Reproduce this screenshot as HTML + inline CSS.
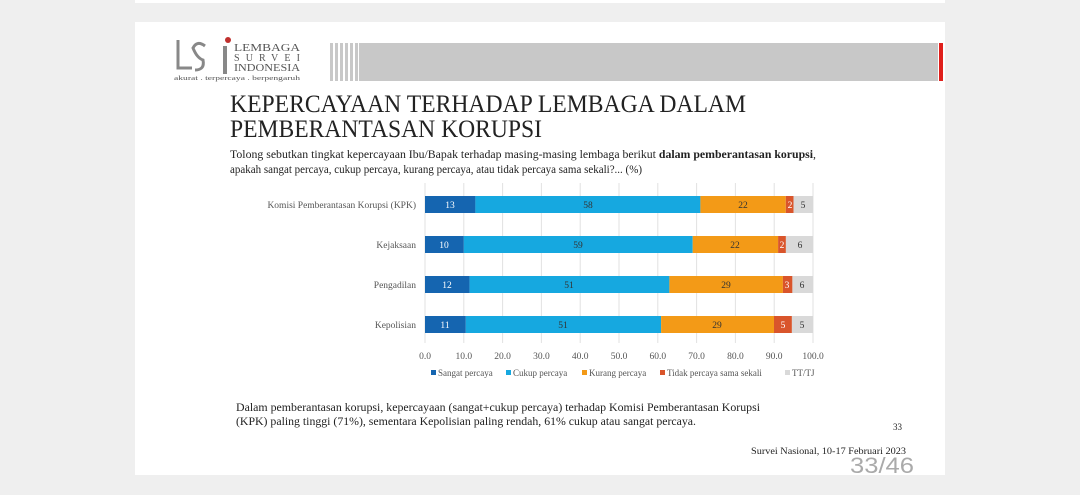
<!DOCTYPE html>
<html><head><meta charset="utf-8"><style>
html,body{margin:0;padding:0;background:#f0f0f0;}
svg{display:block;}
text{font-family:"Liberation Serif",serif;}
</style></head><body>
<svg width="1080" height="495" viewBox="0 0 1080 495" xmlns="http://www.w3.org/2000/svg">
<rect x="0" y="0" width="1080" height="495" fill="#efefef"/>
<rect x="135" y="0" width="810" height="3" fill="#fff"/>
<rect x="135" y="22" width="810" height="453" fill="#fff"/>
<!-- logo -->
<path d="M178 40 v28 h14" stroke="#888" stroke-width="3" fill="none"/>
<path d="M205 46 q-8 -6 -12 2 q4 10 10 12 q2 10 -8 10" stroke="#888" stroke-width="3" fill="none"/>
<rect x="223" y="46" width="4" height="28" fill="#888"/>
<circle cx="228" cy="40" r="3" fill="#c0302e"/>
<text x="234" y="51" font-size="10" fill="#555" textLength="66" lengthAdjust="spacingAndGlyphs">LEMBAGA</text>
<text x="234" y="61" font-size="10" fill="#555" textLength="66" lengthAdjust="spacing">SURVEI</text>
<text x="234" y="71" font-size="10" fill="#555" textLength="66" lengthAdjust="spacingAndGlyphs">INDONESIA</text>
<text x="174" y="80" font-size="6" fill="#555" textLength="126" lengthAdjust="spacingAndGlyphs">akurat . terpercaya . berpengaruh</text>
<!-- header bar -->
<g fill="#c8c8c8">
<rect x="330" y="43" width="3" height="38"/><rect x="335" y="43" width="3" height="38"/><rect x="340" y="43" width="3" height="38"/><rect x="345" y="43" width="3" height="38"/><rect x="350" y="43" width="3" height="38"/><rect x="355" y="43" width="3" height="38"/>
</g>
<rect x="359" y="43" width="579" height="38" fill="#c8c8c8"/>
<rect x="939" y="43" width="4" height="38" fill="#e0201c"/>
<!-- title -->
<text x="230" y="112" font-size="25" fill="#222" textLength="516" lengthAdjust="spacingAndGlyphs">KEPERCAYAAN TERHADAP LEMBAGA DALAM</text>
<text x="230" y="137" font-size="25" fill="#222" textLength="312" lengthAdjust="spacingAndGlyphs">PEMBERANTASAN KORUPSI</text>
<text x="230" y="158" font-size="11.5" fill="#222" textLength="586" lengthAdjust="spacingAndGlyphs">Tolong sebutkan tingkat kepercayaan Ibu/Bapak terhadap masing-masing lembaga berikut <tspan font-weight="bold">dalam pemberantasan korupsi</tspan>,</text>
<text x="230" y="173" font-size="11.5" fill="#222" textLength="412" lengthAdjust="spacingAndGlyphs">apakah sangat percaya, cukup percaya, kurang percaya, atau tidak percaya sama sekali?... (%)</text>
<!-- grid -->
<g stroke="#e2e2e2" stroke-width="1">
<line x1="425" y1="183" x2="425" y2="343"/><line x1="463.8" y1="183" x2="463.8" y2="343"/><line x1="502.6" y1="183" x2="502.6" y2="343"/><line x1="541.4" y1="183" x2="541.4" y2="343"/><line x1="580.2" y1="183" x2="580.2" y2="343"/><line x1="619" y1="183" x2="619" y2="343"/><line x1="657.8" y1="183" x2="657.8" y2="343"/><line x1="696.6" y1="183" x2="696.6" y2="343"/><line x1="735.4" y1="183" x2="735.4" y2="343"/><line x1="774.2" y1="183" x2="774.2" y2="343"/><line x1="813" y1="183" x2="813" y2="343"/>
</g>
<!-- bars: scale 3.88 -->
<g font-size="9.5" text-anchor="middle">
<!-- KPK 13 58 22 2 5 -->
<rect x="425" y="196" width="50.4" height="17" fill="#1565b0"/>
<rect x="475.4" y="196" width="225" height="17" fill="#16a8e0"/>
<rect x="700.4" y="196" width="85.4" height="17" fill="#f39a17"/>
<rect x="785.8" y="196" width="7.8" height="17" fill="#d9552b"/>
<rect x="793.6" y="196" width="19.4" height="17" fill="#d9d9d9"/>
<text x="450" y="208" fill="#fff">13</text><text x="588" y="208" fill="#333">58</text><text x="743" y="208" fill="#333">22</text><text x="790" y="208" fill="#fff">2</text><text x="803" y="208" fill="#333">5</text>
<!-- Kejaksaan 10 59 22 2 6 -->
<rect x="425" y="236" width="38.8" height="17" fill="#1565b0"/>
<rect x="463.8" y="236" width="228.9" height="17" fill="#16a8e0"/>
<rect x="692.7" y="236" width="85.4" height="17" fill="#f39a17"/>
<rect x="778.1" y="236" width="7.8" height="17" fill="#d9552b"/>
<rect x="785.9" y="236" width="27.1" height="17" fill="#d9d9d9"/>
<text x="444" y="248" fill="#fff">10</text><text x="578" y="248" fill="#333">59</text><text x="735" y="248" fill="#333">22</text><text x="782" y="248" fill="#fff">2</text><text x="800" y="248" fill="#333">6</text>
<!-- Pengadilan 12 51 29 3 6 -->
<rect x="425" y="276" width="44.6" height="17" fill="#1565b0"/>
<rect x="469.6" y="276" width="199.8" height="17" fill="#16a8e0"/>
<rect x="669.4" y="276" width="113.5" height="17" fill="#f39a17"/>
<rect x="782.9" y="276" width="9.5" height="17" fill="#d9552b"/>
<rect x="792.4" y="276" width="20.6" height="17" fill="#d9d9d9"/>
<text x="447" y="288" fill="#fff">12</text><text x="569" y="288" fill="#333">51</text><text x="726" y="288" fill="#333">29</text><text x="787" y="288" fill="#fff">3</text><text x="802" y="288" fill="#333">6</text>
<!-- Kepolisian 11 51 29 5 5 -->
<rect x="425" y="316" width="40.8" height="17" fill="#1565b0"/>
<rect x="465.8" y="316" width="195.3" height="17" fill="#16a8e0"/>
<rect x="661.1" y="316" width="112.9" height="17" fill="#f39a17"/>
<rect x="774" y="316" width="17.9" height="17" fill="#d9552b"/>
<rect x="791.9" y="316" width="21.1" height="17" fill="#d9d9d9"/>
<text x="445" y="328" fill="#fff">11</text><text x="563" y="328" fill="#333">51</text><text x="717" y="328" fill="#333">29</text><text x="783" y="328" fill="#fff">5</text><text x="802" y="328" fill="#333">5</text>
</g>
<!-- category labels -->
<g font-size="9.5" fill="#555" text-anchor="end">
<text x="416" y="208">Komisi Pemberantasan Korupsi (KPK)</text>
<text x="416" y="248">Kejaksaan</text>
<text x="416" y="288">Pengadilan</text>
<text x="416" y="328">Kepolisian</text>
</g>
<!-- x ticks -->
<g font-size="9.5" fill="#555" text-anchor="middle">
<text x="425" y="359">0.0</text><text x="463.8" y="359">10.0</text><text x="502.6" y="359">20.0</text><text x="541.4" y="359">30.0</text><text x="580.2" y="359">40.0</text><text x="619" y="359">50.0</text><text x="657.8" y="359">60.0</text><text x="696.6" y="359">70.0</text><text x="735.4" y="359">80.0</text><text x="774.2" y="359">90.0</text><text x="813" y="359">100.0</text>
</g>
<!-- legend -->
<g font-size="9" fill="#555">
<rect x="431" y="370" width="5" height="5" fill="#1565b0"/><text x="438" y="376">Sangat percaya</text>
<rect x="506" y="370" width="5" height="5" fill="#16a8e0"/><text x="513" y="376">Cukup percaya</text>
<rect x="582" y="370" width="5" height="5" fill="#f39a17"/><text x="589" y="376">Kurang percaya</text>
<rect x="660" y="370" width="5" height="5" fill="#d9552b"/><text x="667" y="376">Tidak percaya sama sekali</text>
<rect x="785" y="370" width="5" height="5" fill="#d9d9d9"/><text x="792" y="376">TT/TJ</text>
</g>
<!-- footer -->
<text x="236" y="411" font-size="11.5" fill="#222" textLength="524" lengthAdjust="spacingAndGlyphs">Dalam pemberantasan korupsi, kepercayaan (sangat+cukup percaya) terhadap Komisi Pemberantasan Korupsi</text>
<text x="236" y="425" font-size="11.5" fill="#222" textLength="460" lengthAdjust="spacingAndGlyphs">(KPK) paling tinggi (71%), sementara Kepolisian paling rendah, 61% cukup atau sangat percaya.</text>
<text x="893" y="430" font-size="9" fill="#222">33</text>
<text x="751" y="454" font-size="9.5" fill="#222" textLength="155" lengthAdjust="spacingAndGlyphs">Survei Nasional, 10-17 Februari 2023</text>
<text x="850" y="473" font-size="22" fill="#aaa" font-family="Liberation Sans, sans-serif" style="font-family:'Liberation Sans',sans-serif" textLength="64" lengthAdjust="spacingAndGlyphs">33/46</text>
</svg>
</body></html>
